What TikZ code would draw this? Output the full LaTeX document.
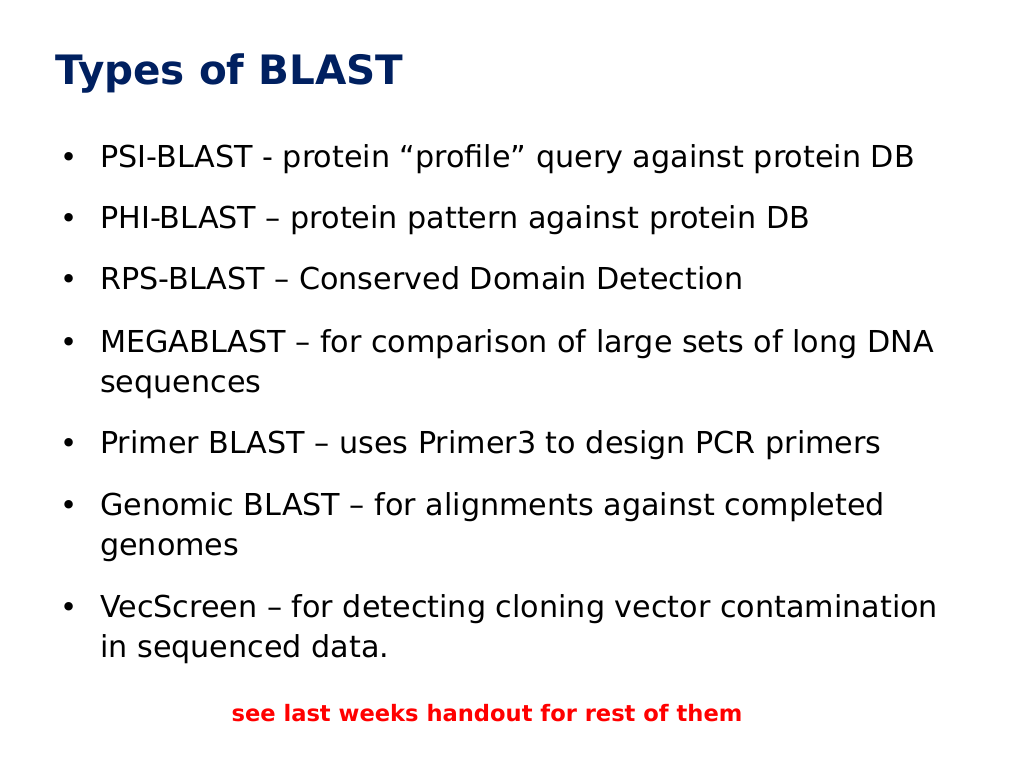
\documentclass[tikz,border=0pt]{standalone}
\usepackage{fontspec}
\setmainfont{DejaVu Sans}
\definecolor{navy}{HTML}{002060}
\definecolor{redtxt}{HTML}{FF0000}
\begin{document}
\begin{tikzpicture}[x=1pt,y=-1pt,
  item/.style={anchor=base west,inner sep=0pt,font=\fontsize{30.2}{34}\selectfont},
  bul/.style={anchor=base west,inner sep=0pt,font=\fontsize{29}{34}\selectfont}]
\useasboundingbox[fill=white] (0,0) rectangle (1024,768);
\node[anchor=base west,inner sep=0pt,text=navy,font=\fontsize{40.5}{48}\selectfont\bfseries] (title) at (55,84) {Types of BLAST};
\foreach \y/\t [count=\i] in {167/{PSI-BLAST - protein “profile” query against protein DB},
  228/{PHI-BLAST – protein pattern against protein DB},
  289/{RPS-BLAST – Conserved Domain Detection},
  352/{MEGABLAST – for comparison of large sets of long DNA},
  453/{Primer BLAST – uses Primer3 to design PCR primers},
  515/{Genomic BLAST – for alignments against completed},
  617/{VecScreen – for detecting cloning vector contamination}}{
  \node[bul] (b\i) at (60,\y) {•};
  \node[item] (t\i) at (100,\y) {\t};
}
\node[item] (t4b) at (100,392) {sequences};
\node[item] (t6b) at (100,555) {genomes};
\node[item] (t7b) at (100,657) {in sequenced data.};
\node[anchor=base,inner sep=0pt,text=redtxt,font=\fontsize{22.6}{26}\selectfont\bfseries] (note) at (487,721) {see last weeks handout for rest of them};
\end{tikzpicture}
\end{document}
